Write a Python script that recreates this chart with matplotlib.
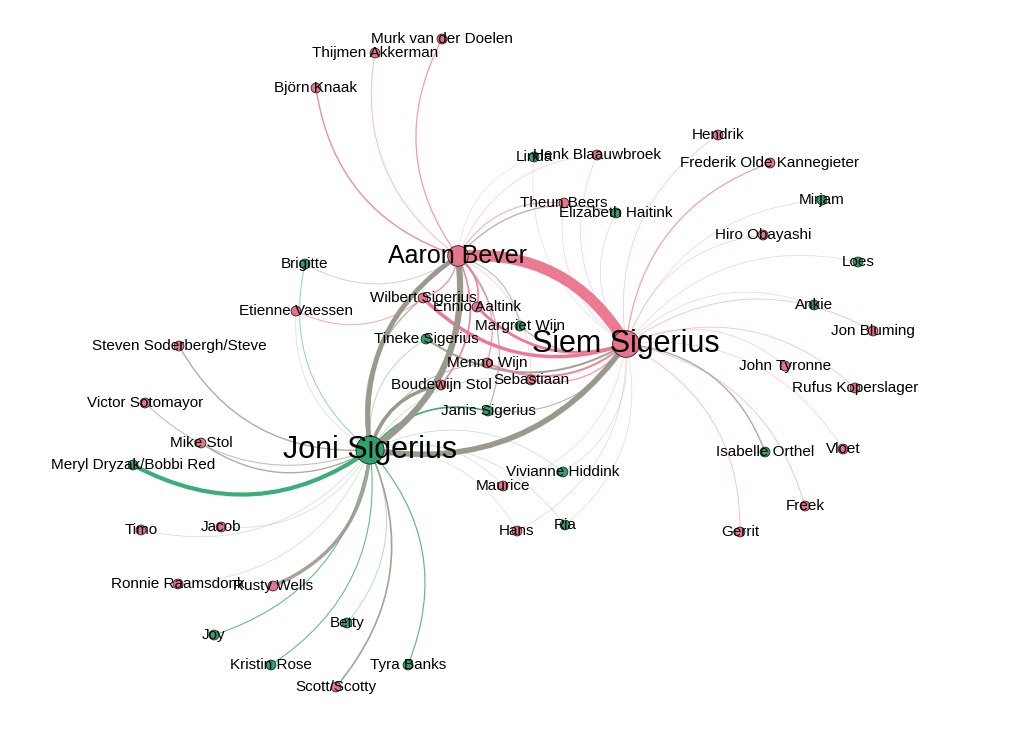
import numpy as np
import matplotlib.pyplot as plt
from matplotlib.path import Path
from matplotlib.patches import PathPatch

# nodes: name, layout position, group (p = pink, g = green), size
names = ["Aaron Bever", "Siem Sigerius", "Joni Sigerius",
         "Murk van der Doelen", "Thijmen Akkerman", "Björn Knaak",
         "Linda", "Henk Blaauwbroek", "Hendrik", "Frederik Olde Kannegieter",
         "Theun Beers", "Elizabeth Haitink", "Mirjam", "Hiro Obayashi",
         "Loes", "Ankie", "Jon Bluming", "Brigitte", "Etienne Vaessen",
         "Wilbert Sigerius", "Ennio Aaltink", "Margriet Wijn", "Tineke Sigerius",
         "Menno Wijn", "Sebastiaan", "Boudewijn Stol", "Janis Sigerius",
         "Vivianne Hiddink", "Maurice", "Hans", "Ria", "John Tyronne",
         "Rufus Koperslager", "Isabelle Orthel", "Vloet", "Freek", "Gerrit",
         "Steven Soderbergh/Steve", "Victor Sotomayor", "Mike Stol",
         "Meryl Dryzak/Bobbi Red", "Timo", "Jacob", "Ronnie Raamsdonk",
         "Rusty Wells", "Joy", "Betty", "Kristin Rose", "Tyra Banks",
         "Scott/Scotty"]
xs = [458, 626, 370, 442, 375, 316, 534, 597, 718, 770, 564, 616, 822, 763,
      858, 814, 873, 305, 296, 423, 477, 520, 426, 487, 531, 441, 488, 563,
      503, 517, 565, 785, 855, 765, 843, 805, 740, 179, 145, 201, 133, 141,
      221, 178, 273, 214, 347, 271, 408, 336]
ys = [256, 344, 450, 39, 53, 88, 157, 155, 135, 163, 203, 213, 200, 235,
      262, 305, 331, 264, 311, 298, 307, 326, 339, 363, 380, 385, 411, 472,
      486, 531, 525, 366, 388, 452, 449, 506, 532, 346, 403, 443, 465, 530,
      527, 584, 586, 635, 623, 665, 665, 687]
groups = ["p", "p", "g", "p", "p", "p", "g", "p", "p", "p", "p", "g", "g", "p",
          "g", "g", "p", "g", "p", "p", "p", "g", "g", "p", "p", "p", "g", "g",
          "p", "p", "g", "p", "p", "g", "p", "p", "p", "p", "p", "p", "g", "p",
          "p", "p", "p", "g", "g", "g", "g", "p"]
big = {"Aaron Bever": (220, 18), "Siem Sigerius": (370, 22), "Joni Sigerius": (410, 22)}

# edges: source, target, width, opacity
edges = [
    ("Björn Knaak", "Aaron Bever", 1.0, 0.85),
    ("Thijmen Akkerman", "Aaron Bever", 0.8, 0.45),
    ("Murk van der Doelen", "Aaron Bever", 0.9, 0.75),
    ("Linda", "Aaron Bever", 0.6, 0.25),
    ("Henk Blaauwbroek", "Aaron Bever", 0.6, 0.35),
    ("Theun Beers", "Aaron Bever", 0.8, 0.6),
    ("Elizabeth Haitink", "Aaron Bever", 1.0, 0.7),
    ("Brigitte", "Aaron Bever", 0.8, 0.4),
    ("Wilbert Sigerius", "Aaron Bever", 1.0, 0.8),
    ("Ennio Aaltink", "Aaron Bever", 1.2, 0.9),
    ("Margriet Wijn", "Aaron Bever", 0.9, 0.6),
    ("Boudewijn Stol", "Aaron Bever", 1.2, 0.9),
    ("Janis Sigerius", "Aaron Bever", 0.9, 0.7),
    ("Menno Wijn", "Aaron Bever", 1.0, 0.7),
    ("Sebastiaan", "Aaron Bever", 0.6, 0.35),
    ("Etienne Vaessen", "Wilbert Sigerius", 0.8, 0.6),
    ("Meryl Dryzak/Bobbi Red", "Joni Sigerius", 3.0, 1.0),
    ("Steven Soderbergh/Steve", "Joni Sigerius", 1.0, 0.8),
    ("Victor Sotomayor", "Joni Sigerius", 0.8, 0.6),
    ("Mike Stol", "Joni Sigerius", 1.0, 0.8),
    ("Timo", "Joni Sigerius", 0.7, 0.3),
    ("Jacob", "Joni Sigerius", 0.7, 0.3),
    ("Ronnie Raamsdonk", "Joni Sigerius", 0.7, 0.3),
    ("Rusty Wells", "Joni Sigerius", 2.5, 0.9),
    ("Joy", "Joni Sigerius", 0.8, 0.8),
    ("Kristin Rose", "Joni Sigerius", 0.8, 0.8),
    ("Betty", "Joni Sigerius", 0.7, 0.4),
    ("Tyra Banks", "Joni Sigerius", 0.9, 0.8),
    ("Scott/Scotty", "Joni Sigerius", 1.2, 0.9),
    ("Brigitte", "Joni Sigerius", 0.8, 0.5),
    ("Etienne Vaessen", "Joni Sigerius", 0.6, 0.3),
    ("Janis Sigerius", "Joni Sigerius", 1.2, 1.0),
    ("Boudewijn Stol", "Joni Sigerius", 2.5, 1.0),
    ("Wilbert Sigerius", "Joni Sigerius", 1.0, 0.7),
    ("Tineke Sigerius", "Joni Sigerius", 0.7, 0.4),
    ("Menno Wijn", "Joni Sigerius", 0.8, 0.6),
    ("Sebastiaan", "Joni Sigerius", 0.6, 0.4),
    ("Vivianne Hiddink", "Joni Sigerius", 0.6, 0.3),
    ("Maurice", "Joni Sigerius", 0.6, 0.3),
    ("Hans", "Joni Sigerius", 0.6, 0.3),
    ("Ria", "Joni Sigerius", 0.6, 0.3),
    ("Linda", "Siem Sigerius", 0.6, 0.25),
    ("Henk Blaauwbroek", "Siem Sigerius", 0.6, 0.35),
    ("Theun Beers", "Siem Sigerius", 0.6, 0.3),
    ("Elizabeth Haitink", "Siem Sigerius", 0.6, 0.3),
    ("Hendrik", "Siem Sigerius", 0.6, 0.4),
    ("Frederik Olde Kannegieter", "Siem Sigerius", 0.9, 0.7),
    ("Mirjam", "Siem Sigerius", 0.6, 0.3),
    ("Hiro Obayashi", "Siem Sigerius", 0.6, 0.35),
    ("Loes", "Siem Sigerius", 0.6, 0.3),
    ("Ankie", "Siem Sigerius", 0.6, 0.3),
    ("Jon Bluming", "Siem Sigerius", 0.7, 0.45),
    ("John Tyronne", "Siem Sigerius", 0.6, 0.35),
    ("Rufus Koperslager", "Siem Sigerius", 0.7, 0.4),
    ("Vloet", "Siem Sigerius", 0.6, 0.35),
    ("Freek", "Siem Sigerius", 0.7, 0.45),
    ("Gerrit", "Siem Sigerius", 0.7, 0.45),
    ("Isabelle Orthel", "Siem Sigerius", 1.0, 0.8),
    ("Vivianne Hiddink", "Siem Sigerius", 0.6, 0.3),
    ("Maurice", "Siem Sigerius", 0.6, 0.3),
    ("Hans", "Siem Sigerius", 0.6, 0.35),
    ("Ria", "Siem Sigerius", 0.6, 0.3),
    ("Margriet Wijn", "Siem Sigerius", 1.0, 0.6),
    ("Tineke Sigerius", "Siem Sigerius", 1.5, 0.9),
    ("Janis Sigerius", "Siem Sigerius", 0.8, 0.7),
    ("Wilbert Sigerius", "Siem Sigerius", 2.5, 1.0),
    ("Ennio Aaltink", "Siem Sigerius", 2.0, 1.0),
    ("Menno Wijn", "Siem Sigerius", 1.5, 0.9),
    ("Sebastiaan", "Siem Sigerius", 1.0, 0.7),
    ("Joni Sigerius", "Siem Sigerius", 4.0, 1.0),
    ("Aaron Bever", "Joni Sigerius", 3.5, 1.0),
    ("Joni Sigerius", "Aaron Bever", 4.5, 1.0),
    ("Siem Sigerius", "Aaron Bever", 8.0, 1.0),
]

node_col = {"p": "#E8738C", "g": "#2FA36D"}
edge_col = {"p": "#EC7A93", "g": "#3AAD79", "mix": "#9A998C"}
bend = 0.31

pos = {n: (x, y) for n, x, y in zip(names, xs, ys)}
grp = dict(zip(names, groups))

fig = plt.figure(figsize=(10.15, 7.31), dpi=100)
ax = fig.add_axes([0, 0, 1, 1])
ax.set_xlim(0, 1015)
ax.set_ylim(731, 0)
ax.axis("off")

for s, t, w, a in sorted(edges, key=lambda e: e[2]):
    x1, y1 = pos[s]
    x2, y2 = pos[t]
    dx, dy = x2 - x1, y2 - y1
    cx = (x1 + x2) / 2 - dy * bend
    cy = (y1 + y2) / 2 + dx * bend
    c = edge_col[grp[s]] if grp[s] == grp[t] else edge_col["mix"]
    p = Path([(x1, y1), (cx, cy), (x2, y2)], [Path.MOVETO, Path.CURVE3, Path.CURVE3])
    ax.add_patch(PathPatch(p, fc="none", ec=c, lw=w, alpha=a, zorder=1))

sizes = [big[n][0] if n in big else 50 for n in names]
cols = [node_col[g] for g in groups]
ax.scatter(xs, ys, s=sizes, c=cols, edgecolors="#222222", linewidths=0.6, zorder=2)

for n, x, y in zip(names, xs, ys):
    fs = big[n][1] if n in big else 11
    ax.text(x, y, n, ha="center", va="center", fontsize=fs,
            family="Liberation Sans", color="black", zorder=3)

fig.savefig("out.png", dpi=100, facecolor="white")
